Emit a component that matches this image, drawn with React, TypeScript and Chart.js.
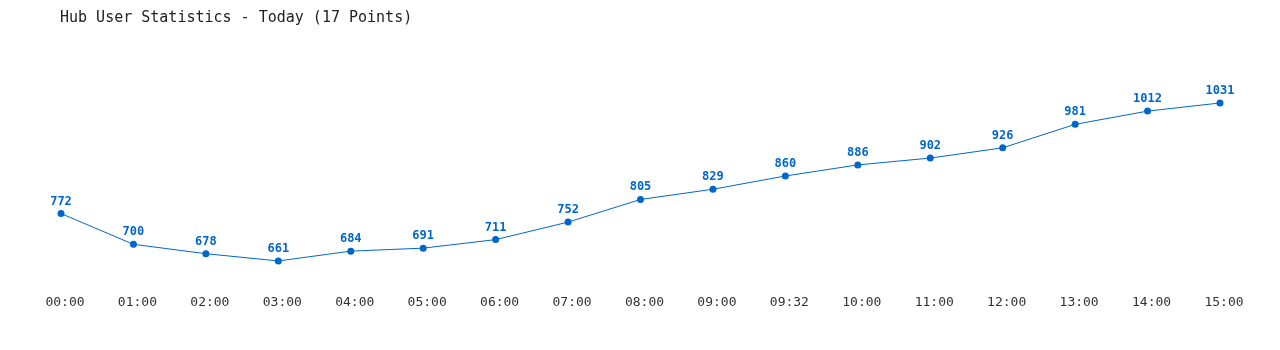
import React, { useEffect, useRef } from "react";
import { Chart, registerables } from "chart.js";

Chart.register(...registerables);

const categories = ["00:00", "01:00", "02:00", "03:00", "04:00", "05:00", "06:00", "07:00", "08:00", "09:00", "09:32", "10:00", "11:00", "12:00", "13:00", "14:00", "15:00"];
const users = [772, 700, 678, 661, 684, 691, 711, 752, 805, 829, 860, 886, 902, 926, 981, 1012, 1031];
const titleText = "Hub User Statistics - Today (17 Points)";

const BLUE = "#0066cc";
const MONO = "'DejaVu Sans Mono', 'Liberation Mono', monospace";

const overlay = {
  id: "overlay",
  afterDatasetsDraw(chart: any) {
    const ctx = chart.ctx;
    ctx.save();
    // title
    ctx.font = `15px ${MONO}`;
    ctx.fillStyle = "#222222";
    ctx.textAlign = "left";
    ctx.textBaseline = "middle";
    ctx.fillText(titleText, 60, 18);
    // data labels
    const meta = chart.getDatasetMeta(0);
    ctx.font = `bold 12px ${MONO}`;
    ctx.fillStyle = BLUE;
    ctx.textAlign = "center";
    ctx.textBaseline = "alphabetic";
    meta.data.forEach((pt: any, i: number) => {
      ctx.fillText(String(users[i]), pt.x, pt.y - 9);
    });
    ctx.restore();
  },
};

export default function App() {
  const ref = useRef<HTMLCanvasElement>(null);
  useEffect(() => {
    const chart = new Chart(ref.current!, {
      type: "line",
      data: {
        labels: categories,
        datasets: [
          {
            data: users,
            borderColor: BLUE,
            backgroundColor: BLUE,
            borderWidth: 1,
            pointRadius: 3.5,
            pointBackgroundColor: BLUE,
            pointBorderColor: BLUE,
            pointBorderWidth: 0,
            tension: 0,
            fill: false,
          },
        ],
      },
      options: {
        animation: false,
        responsive: false,
        maintainAspectRatio: false,
        layout: { padding: { left: 61, right: 60, top: 60, bottom: 0 } },
        plugins: { legend: { display: false }, title: { display: false }, tooltip: { enabled: false } },
        scales: {
          x: {
            type: "category",
            offset: false,
            grid: { display: false, drawTicks: false },
            border: { display: false },
            ticks: {
              font: { family: MONO, size: 13 },
              color: "#333333",
              padding: 8,
              labelOffset: 4,
              maxRotation: 0,
              autoSkip: false,
            },
            afterFit(scale: any) {
              scale.height = 63;
            },
          },
          y: {
            display: false,
            min: 600,
            max: 1131.7,
          },
        },
      },
      plugins: [overlay],
    });
    return () => chart.destroy();
  }, []);
  return (
    <div style={{ position: "fixed", left: 0, top: 0, width: 1280, height: 350, background: "#fff" }}>
      <canvas ref={ref} width={1280} height={350} style={{ display: "block" }} />
    </div>
  );
}
